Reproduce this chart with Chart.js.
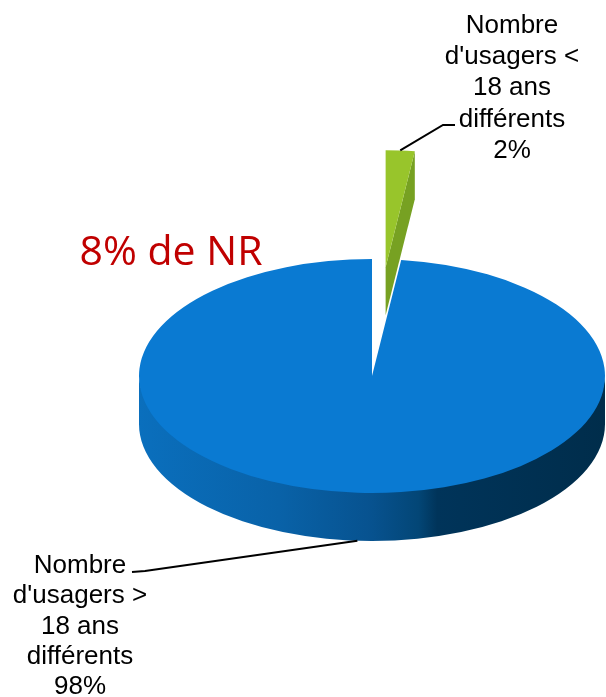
<!DOCTYPE html>
<html><head><meta charset="utf-8">
<script src="https://cdn.jsdelivr.net/npm/chart.js@4/dist/chart.umd.min.js"></script>
<style>html,body{margin:0;padding:0;background:#fff;}#wrap{position:relative;width:606px;height:697px;}</style>
</head><body><div id="wrap"><canvas id="c"></canvas></div>
<script>
// ---- data ----
const categories = ["Nombre d'usagers < 18 ans différents", "Nombre d'usagers > 18 ans différents"];
const values = [2, 98];
const labelLines = [["Nombre", "d'usagers <", "18 ans", "différents"], ["Nombre", "d'usagers >", "18 ans", "différents"]];
const noteText = "8% de NR";
const explodedIndex = 0;

// ---- styling ----
const topColors = ["#98c52b", "#0a7ad2"];
const faceColors = ["#77a122", "#045494"];
const K = 117 / 233;      // vertical squash of the pie
const DEPTH = 48;         // thickness
const EXPLODE = 217;      // explosion distance (circle space)

function frontRanges(s, e) {
  const out = [];
  for (let n = -2; n <= 2; n++) {
    const a0 = Math.max(s, n * 2 * Math.PI), a1 = Math.min(e, n * 2 * Math.PI + Math.PI);
    if (a1 > a0) out.push([a0, a1]);
  }
  return out;
}

const pie3d = {
  id: 'pie3d',
  beforeDatasetsDraw(chart) {
    const ctx = chart.ctx;
    const arcs = chart.getDatasetMeta(0).data;
    const cx = arcs[0].x, cy = arcs[0].y;
    arcs.forEach((a, i) => {
      const mid = (a.startAngle + a.endAngle) / 2;
      const d = i === explodedIndex ? EXPLODE : 0;
      a.$dx = d * Math.cos(mid); a.$dy = d * Math.sin(mid);
      if (!a.$wrapped) {
        const orig = a.draw;
        a.draw = function (c) { c.save(); c.translate(this.$dx, this.$dy); orig.call(this, c); c.restore(); };
        a.$wrapped = true;
      }
    });
    ctx.save();
    // side faces
    arcs.forEach((a, i) => {
      const r = a.outerRadius;
      const x = cx + a.$dx, y = cy + K * a.$dy;
      // outer rim
      frontRanges(a.startAngle, a.endAngle).forEach(([a0, a1]) => {
        const g = ctx.createLinearGradient(x - r, 0, x + r, 0);
        if (i === 1) {
          g.addColorStop(0, '#0a6fbd'); g.addColorStop(0.3, '#0962a8'); g.addColorStop(0.5, '#07528f');
          g.addColorStop(0.6, '#034676'); g.addColorStop(0.64, '#00345a'); g.addColorStop(1, '#002d4b');
        } else { g.addColorStop(0, faceColors[i]); g.addColorStop(1, faceColors[i]); }
        ctx.beginPath();
        ctx.ellipse(x, y - 3, r, r * K, 0, a0, a1, false);
        ctx.ellipse(x, y + DEPTH, r, r * K, 0, a1, a0, true);
        ctx.closePath();
        ctx.fillStyle = g; ctx.fill();
      });
      // radial cut face at end angle (visible for exploded slice)
      if (i === explodedIndex && Math.cos(a.endAngle) > 0) {
        const ox = x + r * Math.cos(a.endAngle), oy = y + K * r * Math.sin(a.endAngle);
        ctx.beginPath();
        ctx.moveTo(x, y); ctx.lineTo(ox, oy); ctx.lineTo(ox, oy + DEPTH); ctx.lineTo(x, y + DEPTH);
        ctx.closePath(); ctx.fillStyle = faceColors[i]; ctx.fill();
      }
    });
    ctx.translate(cx, cy); ctx.scale(1, K); ctx.translate(-cx, -cy);
  },
  afterDatasetsDraw(chart) {
    const ctx = chart.ctx;
    ctx.restore();
    const arcs = chart.getDatasetMeta(0).data;
    const cx = arcs[0].x, cy = arcs[0].y;
    const total = values.reduce((s, v) => s + v, 0);
    ctx.save();
    ctx.strokeStyle = '#000'; ctx.lineWidth = 2;
    {
      const a = arcs[0], mid = (a.startAngle + a.endAngle) / 2, r = a.outerRadius;
      const sx = cx + a.$dx + r * Math.cos(mid), sy = cy + K * (a.$dy + r * Math.sin(mid));
      ctx.beginPath(); ctx.moveTo(sx, sy); ctx.lineTo(443, 125); ctx.lineTo(455, 125); ctx.stroke();
    }
    {
      const a = arcs[1], mid = (a.startAngle + a.endAngle) / 2, r = a.outerRadius;
      const sx = cx + r * Math.cos(mid), sy = cy + K * r * Math.sin(mid) + DEPTH;
      ctx.beginPath(); ctx.moveTo(sx, sy); ctx.lineTo(145, 571); ctx.lineTo(132, 572); ctx.stroke();
    }
    ctx.fillStyle = '#000'; ctx.textAlign = 'center'; ctx.textBaseline = 'alphabetic';
    ctx.font = '26px "Liberation Sans", Arial, sans-serif';
    const pos = [{x: 512, y: 33, lh: 31.2}, {x: 80, y: 573, lh: 30.3}];
    labelLines.forEach((lines, i) => {
      const all = lines.concat([Math.round(values[i] / total * 100) + '%']);
      all.forEach((t, j) => ctx.fillText(t, pos[i].x, pos[i].y + j * pos[i].lh));
    });
    ctx.fillStyle = '#c00000';
    ctx.font = '41px "Open Sans", sans-serif';
    ctx.fillText(noteText, 171, 265);
    ctx.restore();
  }
};

new Chart(document.getElementById('c'), {
  type: 'pie',
  data: {
    labels: categories,
    datasets: [{ data: values, backgroundColor: topColors, borderWidth: 0, clip: false }]
  },
  options: {
    responsive: true, maintainAspectRatio: false, animation: false,
    radius: 233,
    layout: { padding: { left: 139, right: 1, top: 143, bottom: 88 } },
    plugins: { legend: { display: false }, tooltip: { enabled: false } }
  },
  plugins: [pie3d]
});
</script></body></html>
